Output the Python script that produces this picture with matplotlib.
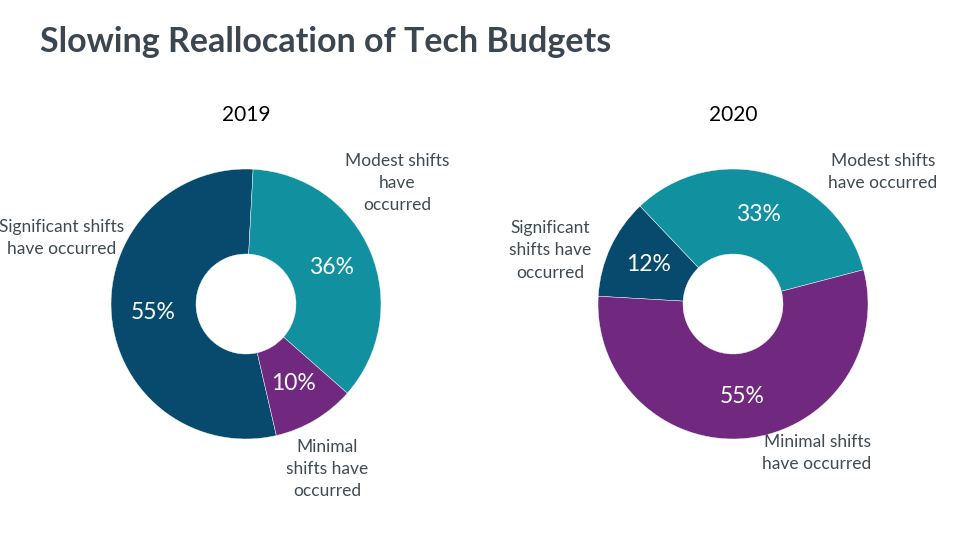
import matplotlib
matplotlib.use("Agg")
import matplotlib.pyplot as plt
import numpy as np

plt.rcParams['font.family'] = ['Lato', 'DejaVu Sans']

title = "Slowing Reallocation of Tech Budgets"
categories = ["Significant shifts have occurred", "Modest shifts have occurred", "Minimal shifts have occurred"]
years = ["2019", "2020"]
values_2019 = [55, 36, 10]
values_2020 = [12, 33, 55]
colors = ["#084A6E", "#1191A0", "#70297F"]

fig = plt.figure(figsize=(9.6, 5.4), dpi=100)
ax = fig.add_axes([0, 0, 1, 1])
ax.set_xlim(0, 960)
ax.set_ylim(0, 540)
ax.axis('off')

H = 540
R = 135
HOLE = 50

def donut(values, cx, cy, start):
    wedges, _ = ax.pie(values, colors=colors, startangle=start, counterclock=False,
                       radius=R, center=(cx, H - cy),
                       wedgeprops=dict(width=R - HOLE, edgecolor='white', linewidth=0.3))
    for w, v in zip(wedges, values):
        mid = np.deg2rad((w.theta1 + w.theta2) / 2)
        r = 0.69 * R
        ax.text(cx + r * np.cos(mid), H - cy + r * np.sin(mid), f"{v}%",
                color='white', fontsize=16.5, ha='center', va='center')

donut(values_2019, 246, 304, 283)
donut(values_2020, 733, 304, 176.7)
ax.set_xlim(0, 960)
ax.set_ylim(0, 540)
ax.set_aspect('auto')

ax.text(40, H - 52, title, fontsize=24.5, fontweight='bold', color='#3B4651',
        ha='left', va='baseline')
ax.text(246, H - 115, years[0], fontsize=15, color='black', ha='center', va='center')
ax.text(733, H - 115, years[1], fontsize=15, color='black', ha='center', va='center')

lab_kw = dict(fontsize=12.5, color='#404A52', ha='center', va='center', linespacing=1.5)
# 2019 labels
ax.text(62, H - 238, "Significant shifts\nhave occurred", **lab_kw)
ax.text(397, H - 183, "Modest shifts\nhave\noccurred", **lab_kw)
ax.text(327, H - 469, "Minimal\nshifts have\noccurred", **lab_kw)
# 2020 labels
ax.text(550, H - 250, "Significant\nshifts have\noccurred", **lab_kw)
ax.text(883, H - 172, "Modest shifts\nhave occurred", **lab_kw)
ax.text(817, H - 453, "Minimal shifts\nhave occurred", **lab_kw)

fig.savefig("out.png", dpi=100)
